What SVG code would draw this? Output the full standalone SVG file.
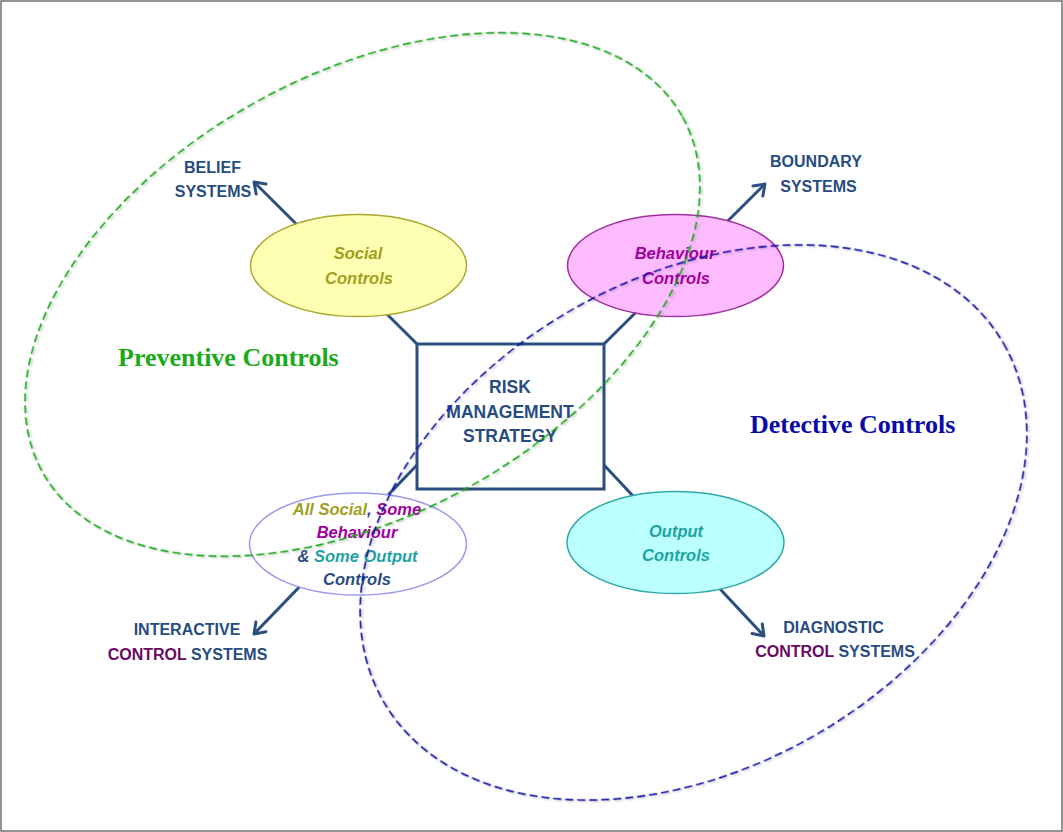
<svg xmlns="http://www.w3.org/2000/svg" width="1063" height="832" viewBox="0 0 1063 832">
<style>
.lbl{font-family:"Liberation Sans",Arial,sans-serif;font-weight:bold;font-size:16px;fill:#284C80;text-anchor:middle}
.ctl{fill:#6A0A64}
.el{font-family:"Liberation Sans",Arial,sans-serif;font-weight:bold;font-style:italic;font-size:16.5px;text-anchor:middle}
.title{font-family:"Liberation Serif","Times New Roman",serif;font-weight:bold;font-size:26px}
.conn{stroke:#2C4F80;stroke-width:3;fill:none}
.dash{fill:none;stroke-width:1.7;stroke-dasharray:8 4;filter:url(#sh)}
</style>
<defs>
<marker id="arr" viewBox="-12 -9 14 18" refX="0" refY="0" markerWidth="14" markerHeight="18" orient="auto" markerUnits="userSpaceOnUse">
<path d="M-10,-7 L0,0 L-10,7" fill="none" stroke="#2C4F80" stroke-width="3" stroke-linecap="round" stroke-linejoin="round"/>
</marker>
<filter id="sh" x="-10%" y="-10%" width="120%" height="120%">
<feDropShadow dx="1" dy="2" stdDeviation="1" flood-color="#000" flood-opacity="0.2"/>
</filter>
</defs>
<rect x="1" y="1" width="1061" height="830" fill="#fff" stroke="#707070" stroke-width="1.5"/>

<g id="connectors">
<line class="conn" x1="417" y1="344" x2="254" y2="182" marker-end="url(#arr)"/>
<line class="conn" x1="604" y1="344" x2="765" y2="184" marker-end="url(#arr)"/>
<line class="conn" x1="417" y1="465" x2="254" y2="634" marker-end="url(#arr)"/>
<line class="conn" x1="604" y1="465" x2="764" y2="636" marker-end="url(#arr)"/>
</g>

<g id="risk">
<rect x="417" y="344" width="187" height="145" fill="#fff" stroke="#2C4F80" stroke-width="3"/>
<text class="lbl" style="font-size:17.5px" x="510" y="393">RISK</text>
<text class="lbl" style="font-size:17.5px" x="510" y="418">MANAGEMENT</text>
<text class="lbl" style="font-size:17.5px" x="510" y="442">STRATEGY</text>
</g>

<g id="social">
<ellipse cx="358.5" cy="265.5" rx="108" ry="51" fill="#FFFFB3" stroke="#A8A830" stroke-width="1.5"/>
<text class="el" fill="#A0A020" x="358" y="259">Social</text>
<text class="el" fill="#A0A020" x="359" y="284">Controls</text>
</g>

<g id="behaviour">
<ellipse cx="675.5" cy="265.5" rx="108" ry="51" fill="#FFBBFF" stroke="#A030A0" stroke-width="1.5"/>
<text class="el" fill="#A000A0" x="675" y="259">Behaviour</text>
<text class="el" fill="#A000A0" x="676" y="284">Controls</text>
</g>

<g id="output">
<ellipse cx="675.5" cy="542.5" rx="108.5" ry="51" fill="#BBFFFF" stroke="#30A8A8" stroke-width="1.5"/>
<text class="el" fill="#1FA3A3" x="676" y="537">Output</text>
<text class="el" fill="#1FA3A3" x="676" y="561">Controls</text>
</g>

<g id="mixed">
<ellipse cx="358" cy="544" rx="108.5" ry="51" fill="#fff" stroke="#9999EE" stroke-width="1.5"/>
<text class="el" x="357" y="515"><tspan fill="#A0A020">All Social</tspan><tspan fill="#284C80">, </tspan><tspan fill="#A000A0">Some</tspan></text>
<text class="el" fill="#A000A0" x="357" y="538">Behaviour</text>
<text class="el" x="357.5" y="562"><tspan fill="#284C80">&amp; </tspan><tspan fill="#1FA3A3">Some Output</tspan></text>
<text class="el" fill="#284C80" x="357" y="585">Controls</text>
</g>

<g id="belief">
<text class="lbl" x="212.5" y="173">BELIEF</text>
<text class="lbl" x="213" y="197">SYSTEMS</text>
</g>
<g id="boundary">
<text class="lbl" x="816" y="167">BOUNDARY</text>
<text class="lbl" x="818.5" y="192">SYSTEMS</text>
</g>
<g id="interactive">
<text class="lbl" x="187" y="635">INTERACTIVE</text>
<text class="lbl" x="187.5" y="660"><tspan class="ctl">CONTROL</tspan> SYSTEMS</text>
</g>
<g id="diagnostic">
<text class="lbl" x="833.5" y="633">DIAGNOSTIC</text>
<text class="lbl" x="835" y="657"><tspan class="ctl">CONTROL</tspan> SYSTEMS</text>
</g>

<g id="preventive">
<ellipse class="dash" stroke="#1EA81E" cx="362.5" cy="294.5" rx="366" ry="220" transform="rotate(-29 362.5 294.5)"/>
<text class="title" fill="#1AAA1A" x="118" y="366">Preventive Controls</text>
</g>
<g id="detective">
<ellipse class="dash" stroke="#1616A8" cx="693.5" cy="522.5" rx="358" ry="245" transform="rotate(-30 693.5 522.5)"/>
<text class="title" fill="#0A0AA8" x="750" y="433">Detective Controls</text>
</g>
</svg>
